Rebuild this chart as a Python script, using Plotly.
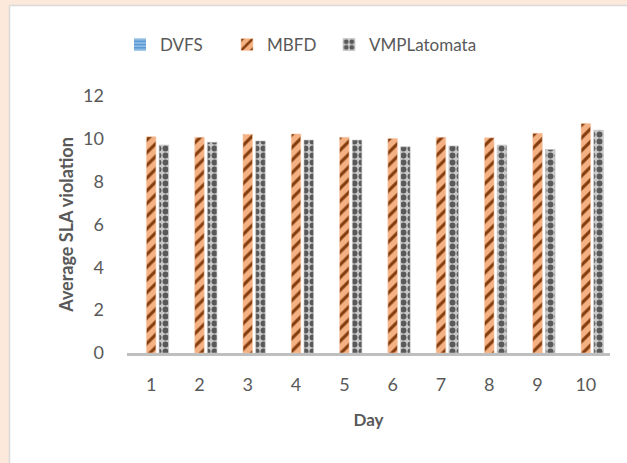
import plotly.graph_objects as go

days = ["1", "2", "3", "4", "5", "6", "7", "8", "9", "10"]
dvfs = [0, 0, 0, 0, 0, 0, 0, 0, 0, 0]
mbfd = [10.10, 10.07, 10.21, 10.23, 10.07, 10.02, 10.07, 10.05, 10.26, 10.72]
vmpl = [9.71, 9.84, 9.90, 9.94, 9.94, 9.63, 9.67, 9.71, 9.50, 10.40]
y_ticks = [0, 2, 4, 6, 8, 10, 12]

FONT = "Lato, Open Sans, sans-serif"
TXT = "#595959"

fig = go.Figure()
fig.add_trace(go.Bar(
    x=days, y=dvfs, name="DVFS", legend="legend",
    marker=dict(color="#5B9BD5", line=dict(width=0),
                pattern=dict(shape="-", fgcolor="#9DC3E6", bgcolor="#5B9BD5",
                             size=4, solidity=0.4, fillmode="replace")),
))
fig.add_trace(go.Bar(
    x=days, y=mbfd, name="MBFD", legend="legend2",
    marker=dict(color="#F4B183", line=dict(width=0.6, color="#F8CBAD"),
                pattern=dict(shape="/", fgcolor="#843C0C", bgcolor="#F4B183",
                             size=9, solidity=0.35, fillmode="replace")),
))
fig.add_trace(go.Bar(
    x=days, y=vmpl, name="VMPLatomata", legend="legend3",
    marker=dict(color="#C9C9C9", line=dict(width=0.6, color="#BFBFBF"),
                pattern=dict(shape=".", fgcolor="#595959", bgcolor="#C9C9C9",
                             size=7, solidity=0.55, fillmode="replace")),
))

# pixel -> paper coordinate helpers (plot area: x 127..610, y 96..353)
def px_x(p):
    return (p - 127) / 483.0

def px_y(p):
    return (353 - p) / 257.0

shapes = [
    dict(type="rect", xref="paper", yref="paper", x0=px_x(-5), x1=px_x(9),
         y0=px_y(470), y1=px_y(-5), fillcolor="#FCE9DB", line=dict(width=0), layer="below"),
    dict(type="rect", xref="paper", yref="paper", x0=px_x(-5), x1=px_x(640),
         y0=px_y(5), y1=px_y(-5), fillcolor="#FCE9DB", line=dict(width=0), layer="below"),
    dict(type="line", xref="paper", yref="paper", x0=px_x(9.5), x1=px_x(9.5),
         y0=px_y(470), y1=px_y(5.5), line=dict(color="#D9D9D9", width=1.5)),
    dict(type="line", xref="paper", yref="paper", x0=px_x(9.5), x1=px_x(640),
         y0=px_y(5.5), y1=px_y(5.5), line=dict(color="#D9D9D9", width=1.5)),
]

def leg(xpix):
    return dict(orientation="h", x=px_x(xpix), xanchor="left", y=px_y(45), yanchor="middle",
                font=dict(family=FONT, size=17, color=TXT), itemwidth=30,
                bgcolor="rgba(0,0,0,0)")

fig.update_layout(
    width=627, height=463,
    margin=dict(l=127, r=17, t=96, b=110),
    paper_bgcolor="white", plot_bgcolor="white",
    barmode="group", bargap=0.21, bargroupgap=0.25,
    font=dict(family=FONT, color=TXT, size=17),
    showlegend=True,
    legend=leg(120), legend2=leg(227), legend3=leg(329),
    shapes=shapes,
    xaxis=dict(showgrid=False, showline=True, linecolor="#BFBFBF", linewidth=2.5,
               ticks="", tickfont=dict(size=18, color=TXT), ticklabelstandoff=14,
               title=dict(text="<b>Day</b>", font=dict(size=17, color=TXT), standoff=20)),
    yaxis=dict(range=[0, 12], tickvals=y_ticks, showgrid=False, zeroline=False,
               showline=False, ticks="", tickfont=dict(size=18, color=TXT),
               ticklabelstandoff=22,
               title=dict(text="<b>Average SLA violation</b>", font=dict(size=18, color=TXT),
                          standoff=4)),
)

fig.write_html("out.html", config={"displayModeBar": False},
               post_script="document.body.style.margin='0';document.body.style.overflow='hidden';")
